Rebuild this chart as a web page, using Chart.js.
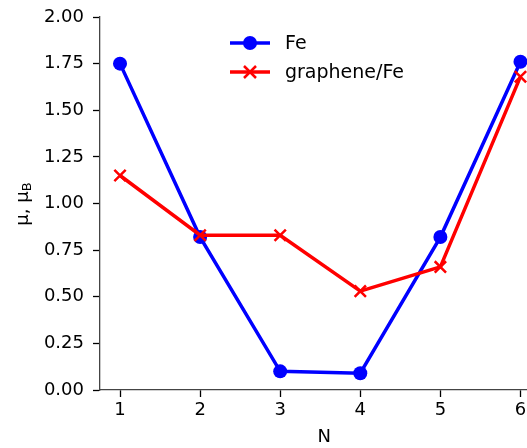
<!DOCTYPE html>
<html>
<head>
<meta charset="utf-8">
<script src="https://cdn.jsdelivr.net/npm/chart.js@4"></script>
<style>
  html, body { margin: 0; padding: 0; background: #fff; overflow: hidden; }
  #wrap { width: 559px; height: 448px; }
</style>
</head>
<body>
<div id="wrap"><canvas id="chart" width="559" height="448"></canvas></div>
<script>
// Data
const nValues = [1, 2, 3, 4, 5, 6];
const feMoments = [1.75, 0.82, 0.10, 0.09, 0.82, 1.76];
const grapheneFeMoments = [1.15, 0.83, 0.83, 0.53, 0.66, 1.68];
const xTicks = [1, 2, 3, 4, 5, 6];
const yTicks = [0, 0.25, 0.5, 0.75, 1, 1.25, 1.5, 1.75, 2];

const FONT = "'DejaVu Sans', sans-serif";

// Build {x, y} pairs from the arrays
function toPoints(xs, ys) {
    return xs.map((x, i) => ({ x: x, y: ys[i] }));
}

// Legend and y title drawn by hand (line + marker legend like matplotlib)
const extrasPlugin = {
    id: 'extras',
    afterDraw(chart) {
        const ctx = chart.ctx;
        ctx.save();

        // --- legend ---
        const items = [
            { label: 'Fe', color: '#0000ff', marker: 'circle', y: 43 },
            { label: 'graphene/Fe', color: '#ff0000', marker: 'cross', y: 72 }
        ];
        items.forEach(item => {
            ctx.strokeStyle = item.color;
            ctx.fillStyle = item.color;
            ctx.lineWidth = 3.5;
            ctx.beginPath();
            ctx.moveTo(230, item.y);
            ctx.lineTo(270, item.y);
            ctx.stroke();
            if (item.marker === 'circle') {
                ctx.beginPath();
                ctx.arc(250, item.y, 7, 0, Math.PI * 2);
                ctx.fill();
            } else {
                ctx.lineWidth = 2.5;
                ctx.beginPath();
                ctx.moveTo(244, item.y - 6);
                ctx.lineTo(256, item.y + 6);
                ctx.moveTo(256, item.y - 6);
                ctx.lineTo(244, item.y + 6);
                ctx.stroke();
            }
            ctx.fillStyle = '#000';
            ctx.font = '19px ' + FONT;
            ctx.textAlign = 'left';
            ctx.textBaseline = 'middle';
            ctx.fillText(item.label, 285, item.y + 1);
        });

        // --- y axis title: μ, μ_B ---
        ctx.translate(23, 204);
        ctx.rotate(-Math.PI / 2);
        ctx.fillStyle = '#000';
        ctx.textBaseline = 'middle';
        const main = 'μ, μ';
        ctx.font = '18px ' + FONT;
        const wMain = ctx.measureText(main).width;
        ctx.font = '13px ' + FONT;
        const wSub = ctx.measureText('B').width;
        const start = -(wMain + wSub) / 2;
        ctx.textAlign = 'left';
        ctx.font = '18px ' + FONT;
        ctx.fillText(main, start, 0);
        ctx.font = '13px ' + FONT;
        ctx.fillText('B', start + wMain, 5);
        ctx.restore();
    }
};

new Chart(document.getElementById('chart'), {
    type: 'line',
    data: {
        datasets: [
            {
                label: 'Fe',
                data: toPoints(nValues, feMoments),
                borderColor: '#0000ff',
                backgroundColor: '#0000ff',
                borderWidth: 3.5,
                pointStyle: 'circle',
                pointRadius: 7,
                pointBorderWidth: 0,
                tension: 0,
                order: 1
            },
            {
                label: 'graphene/Fe',
                data: toPoints(nValues, grapheneFeMoments),
                borderColor: '#ff0000',
                backgroundColor: '#ff0000',
                borderWidth: 3.5,
                pointStyle: 'crossRot',
                pointRadius: 8,
                pointBorderWidth: 2.5,
                tension: 0,
                order: 0
            }
        ]
    },
    options: {
        responsive: false,
        animation: false,
        layout: { padding: { top: 17, right: 0, left: 0, bottom: 0 } },
        plugins: {
            legend: { display: false },
            tooltip: { enabled: false }
        },
        scales: {
            x: {
                type: 'linear',
                min: 0.75,
                max: 6.35,
                afterBuildTicks: (scale) => { scale.ticks = xTicks.map(v => ({ value: v })); },
                afterFit: (scale) => { scale.height = 58; },
                grid: { drawOnChartArea: false, drawTicks: true, tickLength: 7, tickWidth: 1.3, tickColor: '#000' },
                border: { display: true, color: '#444', width: 1.3 },
                ticks: {
                    color: '#000',
                    font: { family: FONT, size: 18 },
                    padding: 3,
                    maxRotation: 0,
                    callback: (v) => String(v)
                },
                title: {
                    display: true,
                    text: 'N',
                    color: '#000',
                    font: { family: FONT, size: 18 },
                    padding: { top: 0, bottom: 0 }
                }
            },
            y: {
                type: 'linear',
                min: 0,
                max: 2,
                afterBuildTicks: (scale) => { scale.ticks = yTicks.map(v => ({ value: v })); },
                afterFit: (scale) => {
                    scale.width = 100;
                    scale.paddingTop = 0;
                    scale.paddingBottom = 0;
                },
                grid: { drawOnChartArea: false, drawTicks: true, tickLength: 7, tickWidth: 1.3, tickColor: '#000' },
                border: { display: true, color: '#444', width: 1.3 },
                ticks: {
                    color: '#000',
                    font: { family: FONT, size: 18 },
                    padding: 9,
                    callback: (v) => v.toFixed(2)
                }
            }
        }
    },
    plugins: [extrasPlugin]
});
</script>
</body>
</html>
